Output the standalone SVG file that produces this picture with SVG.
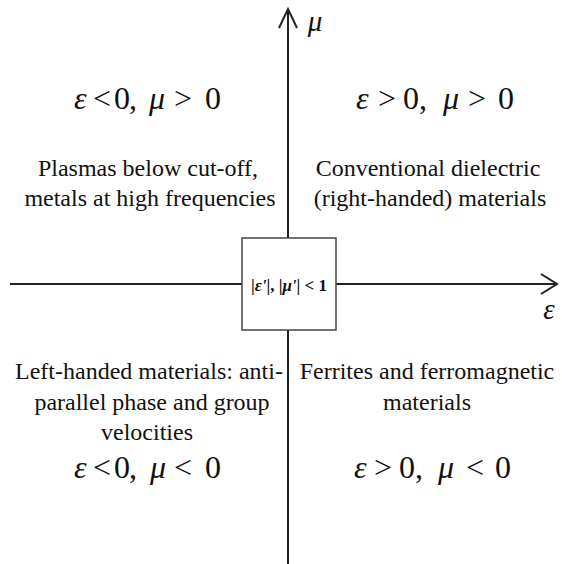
<svg xmlns="http://www.w3.org/2000/svg" width="562" height="564" viewBox="0 0 562 564">
<style>
.ax{stroke:#222;stroke-width:2;fill:none}
text{font-family:'Liberation Serif','Times New Roman',serif;fill:#111;text-anchor:middle}
.t{font-size:24px}
.m{font-size:32px;text-anchor:start}
.i{font-style:italic}
</style>
<rect width="562" height="564" fill="#fff"/>
<g id="axes">
<line class="ax" x1="288" y1="10" x2="288" y2="238"/>
<line class="ax" x1="288" y1="330" x2="288" y2="564"/>
<polyline class="ax" points="279,28 288,9 297,28"/>
<line class="ax" x1="10" y1="284" x2="242" y2="284"/>
<line class="ax" x1="336" y1="284" x2="556" y2="284"/>
<polyline class="ax" points="541,274 557,284 541,294"/>
<text class="i" x="315" y="31" style="font-size:29px">μ</text>
<text class="i" x="549" y="319" style="font-size:29px">ε</text>
</g>
<g id="center">
<rect x="242" y="238" width="94" height="92" fill="#fff" stroke="#444" stroke-width="1.5"/>
<text x="289" y="291" style="font-size:17px;font-weight:bold">|<tspan class="i">ε'</tspan>|, |<tspan class="i">μ'</tspan>| &lt; 1</text>
</g>
<g id="q2">
<text class="m" x="74 93 114 129 149 174 205" y="109"><tspan class="i">ε</tspan>&lt;0,<tspan class="i">μ</tspan>&gt;0</text>
<text class="t" x="148" y="176">Plasmas below cut-off,</text>
<text class="t" x="150" y="206">metals at high frequencies</text>
</g>
<g id="q1">
<text class="m" x="356 378 403 419 443 468 498" y="109"><tspan class="i">ε</tspan>&gt;0,<tspan class="i">μ</tspan>&gt;0</text>
<text class="t" x="428" y="176">Conventional dielectric</text>
<text class="t" x="430" y="206">(right-handed) materials</text>
</g>
<g id="q3">
<text class="t" x="149" y="379">Left-handed materials: anti-</text>
<text class="t" x="152" y="410">parallel phase and group</text>
<text class="t" x="147" y="440">velocities</text>
<text class="m" x="74 93 114 129 150 174 205" y="478"><tspan class="i">ε</tspan>&lt;0,<tspan class="i">μ</tspan>&lt;0</text>
</g>
<g id="q4">
<text class="m" x="354 374 399 415 438 466 495" y="478"><tspan class="i">ε</tspan>&gt;0,<tspan class="i">μ</tspan>&lt;0</text>
<text class="t" x="427" y="379">Ferrites and ferromagnetic</text>
<text class="t" x="427" y="410">materials</text>
</g>
</svg>
